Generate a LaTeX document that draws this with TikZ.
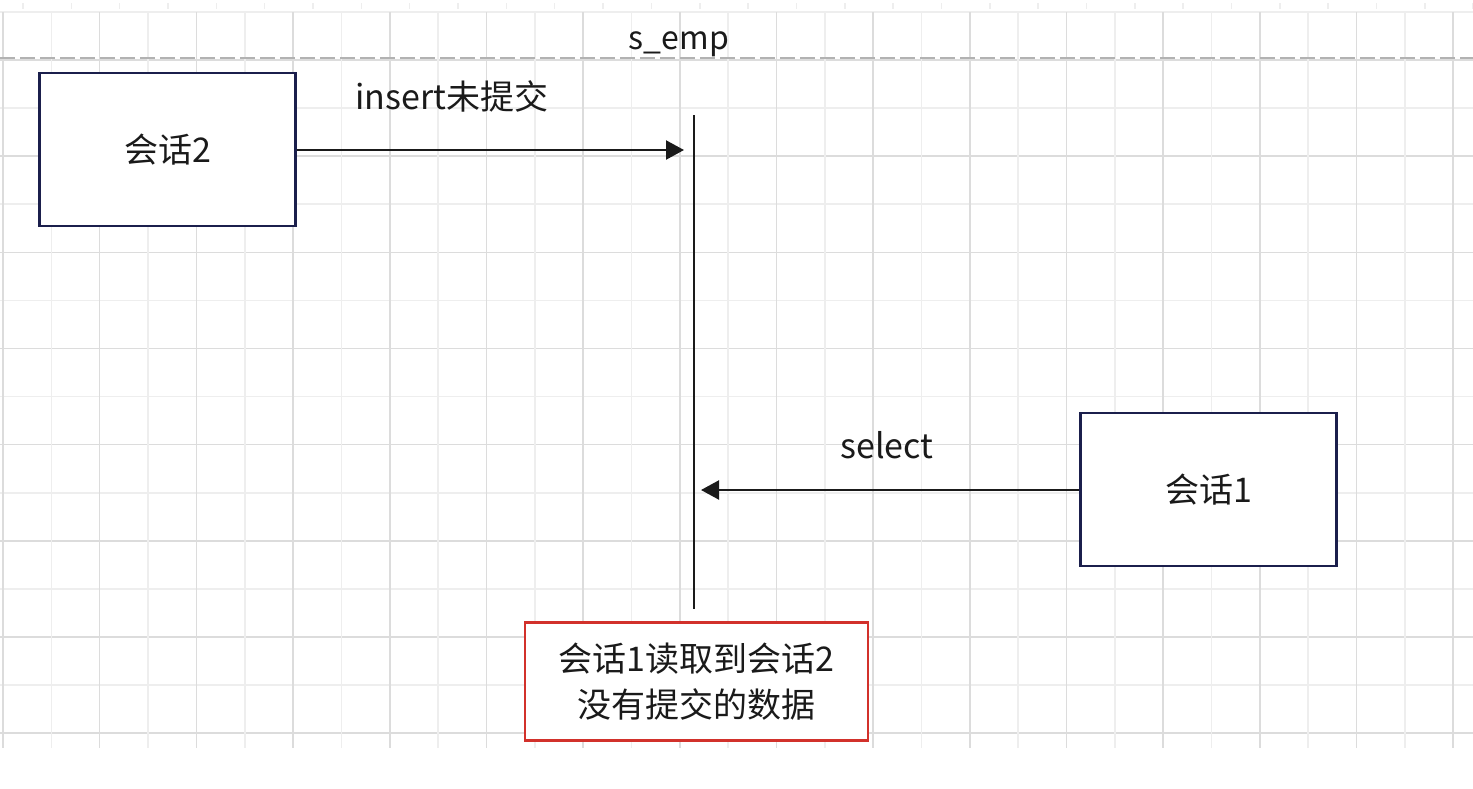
\documentclass[tikz,border=0pt]{standalone}
\usepackage{fontspec}
\setmainfont{Noto Sans CJK SC}
\usetikzlibrary{arrows.meta}
\definecolor{gridA}{HTML}{DCDCDC}
\definecolor{gridB}{HTML}{EEEEEE}
\definecolor{dashgray}{HTML}{B2B2B2}
\definecolor{navy}{HTML}{1B1F4C}
\definecolor{redbox}{HTML}{D2312B}
\definecolor{ink}{HTML}{1A1A1A}
\tikzset{
  gridline/.style={line width=1.6pt},
  sessionbox/.style={draw=navy, line width=2.2pt, fill=white, minimum width=256pt, minimum height=153pt, inner sep=0pt, text=ink, font=\fontsize{34}{40}\selectfont},
  notebox/.style={draw=redbox, line width=2.5pt, fill=white, minimum width=343pt, minimum height=118pt, inner sep=0pt, align=center, text=ink, font=\fontsize{34}{46}\selectfont},
  label/.style={text=ink, inner sep=0pt, font=\fontsize{34}{40}\selectfont},
  msg/.style={line width=2.2pt, draw=ink, -{Triangle[length=18pt,width=19pt]}},
  lifeline/.style={line width=2.2pt, draw=ink}
}
\begin{document}
\begin{tikzpicture}[x=1pt,y=-1pt]
\useasboundingbox (0,0) rectangle (1473,788);
\fill[white] (0,0) rectangle (1473,788);
% ruler ticks
\foreach \i in {0,...,30} \draw[gridB, line width=1.5pt] ({23+48.34*\i},3) -- ({23+48.34*\i},9);
% grid
\foreach \j in {0,2,...,14} \draw[gridline, gridB] (0,{12+48.07*\j}) -- (1473,{12+48.07*\j});
\foreach \j in {1,3,...,15} \draw[gridline, gridA] (0,{12+48.07*\j}) -- (1473,{12+48.07*\j});
\foreach \i in {1,3,...,29} \draw[gridline, gridB] ({3+48.34*\i},12) -- ({3+48.34*\i},748);
\foreach \i in {0,2,...,30} \draw[gridline, gridA] ({3+48.34*\i},12) -- ({3+48.34*\i},748);
% dashed header line
\draw[dashgray, line width=2pt, dash pattern=on 15pt off 5pt] (0,58) -- (1473,58);
\node[label, font=\fontsize{32}{40}\selectfont] (title) at (679,44) {s\_emp};
% lifeline
\coordinate (ltop) at (694,115);
\coordinate (lbot) at (694,609);
\draw[lifeline] (ltop) -- (lbot);
% sessions
\node[sessionbox] (s2) at (167.5,149.5) {会话2};
\node[sessionbox] (s1) at (1208.5,489.5) {会话1};
\coordinate (in2) at (684,150);
\coordinate (in1) at (701,490);
\draw[msg] (s2.east |- in2) -- (in2);
\draw[msg] (s1.west |- in1) -- (in1);
\node[label] (lins) at (452,96) {insert未提交};
\node[label] (lsel) at (887,445) {select};
% note
\node[notebox] (note) at (696.3,681.5) {会话1读取到会话2\\没有提交的数据};
\end{tikzpicture}
\end{document}
